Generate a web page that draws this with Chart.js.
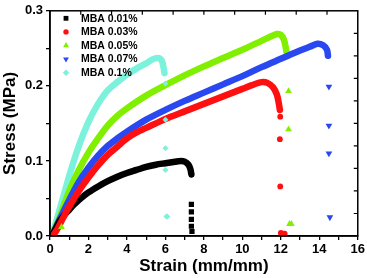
<!DOCTYPE html>
<html><head><meta charset="utf-8">
<script src="https://cdn.jsdelivr.net/npm/chart.js@4/dist/chart.umd.min.js"></script>
<style>html,body{margin:0;padding:0;background:#fff}</style>
</head><body>
<canvas id="c" width="367" height="278"></canvas>
<script>
// ---- data ----
const seriesNames = ['MBA 0.01%', 'MBA 0.03%', 'MBA 0.05%', 'MBA 0.07%', 'MBA 0.1%'];
const xTickValues = [0, 2, 4, 6, 8, 10, 12, 14, 16];
const yTickValues = [0.0, 0.1, 0.2, 0.3];

// continuous stress-strain curves [strain, stress]
const mba001Curve = [[0.1,0],[0.3,0.01],[0.5,0.02],[0.75,0.028],[1,0.035],[1.25,0.042],[1.5,0.048],[2,0.058],[2.5,0.066],[3,0.073],[3.5,0.079],[4,0.084],[4.5,0.088],[5,0.092],[5.5,0.095],[6,0.097],[6.5,0.099],[6.8,0.1],[7.0,0.099],[7.2,0.095],[7.3,0.089],[7.35,0.082]];
const mba003Curve = [[0.15,0],[0.4,0.01],[0.7,0.025],[1,0.039],[1.5,0.06],[2,0.078],[2.5,0.094],[3,0.108],[3.5,0.119],[4,0.13],[4.5,0.138],[5,0.144],[6,0.156],[7,0.166],[8,0.176],[9,0.186],[10,0.196],[10.5,0.201],[11,0.205],[11.3,0.204],[11.6,0.198],[11.8,0.188],[11.9,0.176],[11.95,0.168]];
const mba005Curve = [[0.1,0],[0.5,0.025],[1,0.06],[1.5,0.088],[2,0.111],[2.5,0.13],[3,0.147],[3.5,0.16],[4,0.17],[5,0.187],[6,0.201],[7,0.214],[8,0.226],[9,0.237],[10,0.248],[11,0.26],[11.5,0.266],[11.8,0.269],[12.0,0.268],[12.15,0.262],[12.25,0.252],[12.3,0.244]];
const mba007Curve = [[0.1,0],[0.5,0.022],[1,0.048],[1.5,0.072],[2,0.091],[2.5,0.107],[3,0.12],[3.5,0.13],[4,0.139],[5,0.155],[6,0.168],[7,0.18],[8,0.191],[9,0.202],[10,0.213],[11,0.225],[12,0.236],[13,0.247],[13.5,0.252],[13.9,0.256],[14.2,0.254],[14.4,0.248],[14.45,0.24]];
const mba01Curve  = [[0.1,0],[0.5,0.035],[1,0.08],[1.5,0.12],[2,0.152],[2.5,0.176],[3,0.194],[3.5,0.205],[4,0.215],[4.5,0.223],[5,0.23],[5.3,0.235],[5.6,0.237],[5.8,0.234],[5.9,0.225],[5.95,0.217]];

// isolated points recorded after fracture [strain, stress]
const mba001Break = [[7.35,0.042],[7.35,0.032],[7.35,0.022],[7.35,0.013],[7.38,0.006]];
const mba003Break = [[11.97,0.159],[11.95,0.129],[11.97,0.066],[12.0,0.004],[12.1,0.003],[12.2,0.003]];
const mba005Break = [[0.6,0.012],[12.4,0.193],[12.4,0.142],[12.45,0.016],[12.55,0.016]];
const mba007Break = [[14.5,0.199],[14.5,0.147],[14.5,0.11],[14.55,0.025]];
const mba01Break  = [[6.0,0.203],[6.0,0.155],[6.0,0.117],[6.0,0.088],[6.05,0.026],[6.1,0.026]];

// ---- styling ----
const FONT = "'Liberation Sans', Arial, Helvetica, sans-serif";
const colors = ['#000000', '#ff1010', '#80f000', '#2a48f0', '#7cf2dc'];
const styles = ['rect', 'circle', 'triangle', 'triangle', 'rectRot'];
const rotations = [0, 0, 0, 180, 0];
const markerR = [3.7, 2.9, 3.9, 3.9, 3.0];
const legendR = [3.4, 2.7, 3.4, 3.4, 3.2];
const drawOrder = [1, 0, 3, 2, 4]; // lower = drawn on top
const curves = [mba001Curve, mba003Curve, mba005Curve, mba007Curve, mba01Curve];
const breaks = [mba001Break, mba003Break, mba005Break, mba007Break, mba01Break];

const toXY = arr => arr.map(p => ({x: p[0], y: p[1]}));
const datasets = [];
curves.forEach((c, i) => {
  datasets.push({
    label: seriesNames[i], data: toXY(c), showLine: true,
    borderColor: colors[i], backgroundColor: colors[i], borderWidth: 6.5,
    borderCapStyle: 'round', borderJoinStyle: 'round', tension: 0.3,
    pointRadius: 0, pointHoverRadius: 0, order: drawOrder[i]
  });
  datasets.push({
    label: seriesNames[i] + ' break', data: toXY(breaks[i]), showLine: false,
    backgroundColor: colors[i], borderColor: colors[i], borderWidth: 0,
    pointStyle: styles[i], pointRotation: rotations[i], pointRadius: markerR[i], order: -1
  });
});

const frameTicks = {
  id: 'frameTicks',
  afterDraw(chart) {
    const ctx = chart.ctx, a = chart.chartArea;
    const xs = chart.scales.x, ys = chart.scales.y;
    ctx.save();
    ctx.strokeStyle = '#000'; ctx.lineWidth = 1.5;
    ctx.strokeRect(a.left, a.top, a.right - a.left, a.bottom - a.top);
    ctx.lineWidth = 1.2;
    ctx.beginPath();
    for (let k = 1; k < 10; k++) {
      const px = xs.getPixelForValue(xs.min + (xs.max - xs.min) * k / 10);
      ctx.moveTo(px, a.top); ctx.lineTo(px, a.top + 4);
      const py = ys.getPixelForValue(ys.min + (ys.max - ys.min) * k / 10);
      ctx.moveTo(a.right, py); ctx.lineTo(a.right - 4, py);
    }
    ctx.stroke();
    ctx.restore();
  }
};

const insideLegend = {
  id: 'insideLegend',
  afterDatasetsDraw(chart) {
    const ctx = chart.ctx, a = chart.chartArea;
    ctx.save();
    ctx.font = 'bold 10.5px ' + FONT;
    ctx.textBaseline = 'middle';
    ctx.textAlign = 'left';
    seriesNames.forEach((name, i) => {
      const cy = a.top + 7.5 + i * 13.6;
      const cx = a.left + 16;
      ctx.fillStyle = colors[i];
      ctx.strokeStyle = colors[i];
      Chart.helpers.drawPoint(ctx, {pointStyle: styles[i], radius: legendR[i], rotation: rotations[i], borderWidth: 0}, cx, cy);
      ctx.fillStyle = '#000';
      ctx.fillText(name, a.left + 31, cy + 0.5);
    });
    ctx.restore();
  }
};

new Chart(document.getElementById('c'), {
  type: 'scatter',
  data: {datasets},
  options: {
    responsive: false, animation: false, devicePixelRatio: 1,
    layout: {padding: {top: 7.5, right: 9, left: 0, bottom: 0}},
    plugins: {legend: {display: false}, tooltip: {enabled: false}},
    scales: {
      x: {
        type: 'linear', min: 0, max: 16,
        afterFit: s => { s.height = 42; },
        afterBuildTicks: s => { s.ticks = Array.from({length: 17}, (_, k) => ({value: k})); },
        ticks: {autoSkip: false, maxRotation: 0, padding: 2, color: '#000',
          font: {family: FONT, size: 13, weight: 'bold'},
          callback: v => xTickValues.includes(v) ? String(v) : ''},
        grid: {drawOnChartArea: false, drawTicks: true, tickLength: 4, color: '#000', lineWidth: 1.3},
        border: {display: true, color: '#000', width: 1.5},
        title: {display: true, text: 'Strain (mm/mm)', color: '#000',
          font: {family: FONT, size: 17, weight: 'bold'}, padding: {top: 0, bottom: 1}}
      },
      y: {
        type: 'linear', min: 0, max: 0.3,
        afterFit: s => { s.width = 50; },
        afterBuildTicks: s => { s.ticks = Array.from({length: 7}, (_, k) => ({value: k * 0.05})); },
        ticks: {autoSkip: false, padding: 3, color: '#000',
          font: {family: FONT, size: 13, weight: 'bold'},
          callback: v => { const m = yTickValues.find(t => Math.abs(t - v) < 1e-9); return m === undefined ? '' : m.toFixed(1); }},
        grid: {drawOnChartArea: false, drawTicks: true, tickLength: 4, color: '#000', lineWidth: 1.3},
        border: {display: true, color: '#000', width: 1.5},
        title: {display: true, text: 'Stress (MPa)', color: '#000',
          font: {family: FONT, size: 17, weight: 'bold'}, padding: {top: 0, bottom: 0}}
      }
    }
  },
  plugins: [frameTicks, insideLegend]
});
</script>
</body></html>
